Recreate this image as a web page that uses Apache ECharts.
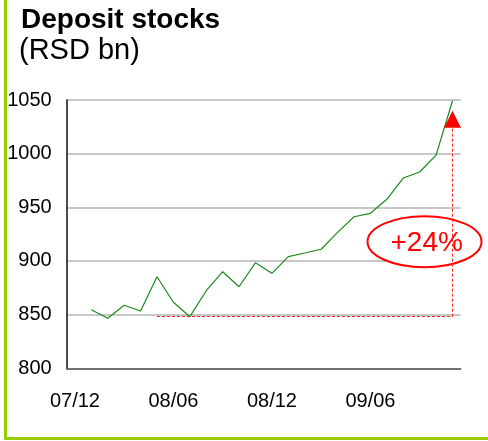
<!DOCTYPE html>
<html><head><meta charset="utf-8">
<script src="https://cdn.jsdelivr.net/npm/echarts/dist/echarts.min.js"></script>
<style>html,body{margin:0;padding:0;background:#fff}#c{width:488px;height:441px}</style>
</head><body><div id="c"></div>
<script>
// Months (first category has no data point; it only carries the first axis label)
const categories = ['07/12','08/01','08/02','08/03','08/04','08/05','08/06','08/07','08/08','08/09','08/10','08/11',
                    '08/12','09/01','09/02','09/03','09/04','09/05','09/06','09/07','09/08','09/09','09/10','09/11'];
// Deposit stocks, RSD bn
const deposits = [null, 854.6, 846.6, 858.7, 853.4, 885.3, 861.5, 848.1, 872.3, 890.0, 876.0, 898.4,
                  888.5, 904.0, 907.4, 910.9, 926.7, 941.2, 944.4, 957.5, 977.3, 982.9, 998.7, 1049.3];
const yMin = 800, yMax = 1050, yStep = 50;
// Annotation values
const baseLevel = 848.1;      // low point used as base of the growth marker
const baseStartIdx = 5;
const arrowIdx = 23;
const arrowBaseValue = 1024;
const arrowValue = 1032;
const growthLabel = '+24%';
const titleText = 'Deposit stocks';
const unitText = '(RSD bn)';

const FONT = '"Liberation Sans", Arial, Helvetica, sans-serif';
const chart = echarts.init(document.getElementById('c'), null, {renderer: 'canvas'});
chart.setOption({
  animation: false,
  backgroundColor: '#fff',
  title: [
    {text: titleText, left: 21, top: 6, padding: 0,
     textStyle: {fontFamily: FONT, fontSize: 28, fontWeight: 'bold', color: '#000', lineHeight: 28}},
    {text: unitText, left: 19, top: 36, padding: 0,
     textStyle: {fontFamily: FONT, fontSize: 29, fontWeight: 'normal', color: '#000', lineHeight: 29}}
  ],
  grid: {left: 66.7, right: 27.3, top: 100, bottom: 72.7, containLabel: false},
  xAxis: {
    type: 'category', data: categories, boundaryGap: true,
    axisLine: {show: true, lineStyle: {color: '#555', width: 1.5}},
    axisTick: {show: false},
    axisLabel: {interval: 5, margin: 23, fontFamily: FONT, fontSize: 20, color: '#000'},
    splitLine: {show: false}
  },
  yAxis: {
    type: 'value', min: yMin, max: yMax, interval: yStep,
    axisLine: {show: true, lineStyle: {color: '#111', width: 1.5}},
    axisTick: {show: false},
    axisLabel: {margin: 15, fontFamily: FONT, fontSize: 20, color: '#000', formatter: v => String(v)},
    splitLine: {show: true, lineStyle: {color: '#b4b4b4', width: 1.5}}
  },
  series: [{
    type: 'line', data: deposits, symbol: 'none', connectNulls: false,
    lineStyle: {color: '#1a8a1a', width: 1.2},
    z: 3,
    markLine: {
      silent: true, symbol: ['none', 'none'], label: {show: false},
      lineStyle: {color: '#ff2020', type: [3, 2], width: 1},
      data: [
        [{coord: [baseStartIdx, baseLevel]}, {coord: [arrowIdx, baseLevel]}],
        [{coord: [arrowIdx, baseLevel]}, {coord: [arrowIdx, arrowBaseValue]}]
      ]
    },
    markPoint: {
      silent: true, symbol: 'triangle', symbolSize: [17, 17], label: {show: false},
      itemStyle: {color: '#ff0000'},
      data: [{coord: [arrowIdx, arrowValue]}]
    }
  }],
  graphic: [
    {type: 'ellipse', z: 1, shape: {cx: 424.5, cy: 241.7, rx: 57, ry: 25.5},
     style: {fill: '#fff', stroke: '#ff0000', lineWidth: 2}},
    {type: 'text', z: 4, x: 426.7, y: 243,
     style: {text: growthLabel, fill: '#ff0000', fontFamily: FONT, fontSize: 28,
             textAlign: 'center', textVerticalAlign: 'middle'}},
    {type: 'rect', z: 5, shape: {x: 4, y: 0, width: 3, height: 440}, style: {fill: '#99cc00'}},
    {type: 'rect', z: 5, shape: {x: 4, y: 437, width: 484, height: 3}, style: {fill: '#99cc00'}}
  ]
});
</script></body></html>
